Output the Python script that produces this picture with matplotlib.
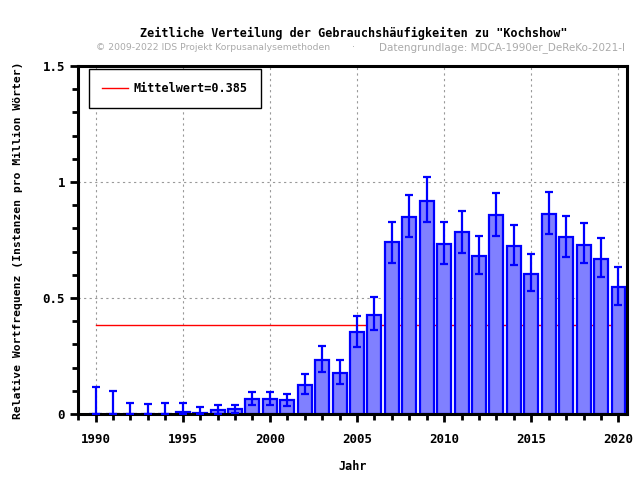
import numpy as np
import matplotlib
matplotlib.use("Agg")
import matplotlib.pyplot as plt
from matplotlib.ticker import MultipleLocator

years = list(range(1990, 2021))
values = [0, 0, 0, 0, 0, 0.010, 0.006, 0.016, 0.020, 0.063,
          0.063, 0.059, 0.126, 0.231, 0.175, 0.352, 0.428, 0.740, 0.850, 0.919,
          0.734, 0.783, 0.682, 0.856, 0.725, 0.605, 0.864, 0.764, 0.730, 0.670,
          0.549]
err_low = [0, 0, 0, 0, 0, 0, 0, 0.002, 0.005, 0.039,
           0.039, 0.036, 0.086, 0.182, 0.129, 0.289, 0.362, 0.651, 0.763, 0.828,
           0.647, 0.694, 0.603, 0.767, 0.642, 0.532, 0.777, 0.677, 0.651, 0.591,
           0.470]
err_high = [0.118, 0.100, 0.049, 0.044, 0.049, 0.049, 0.031, 0.040, 0.040, 0.096,
            0.096, 0.088, 0.174, 0.294, 0.234, 0.424, 0.506, 0.829, 0.945, 1.023,
            0.829, 0.876, 0.767, 0.954, 0.816, 0.691, 0.958, 0.855, 0.825, 0.760,
            0.635]
mean_value = 0.385

mono = "DejaVu Sans Mono"

fig = plt.figure(figsize=(6.4, 4.8), dpi=100)
ax = fig.add_axes([0.122, 0.1375, 0.858, 0.725])

vals = np.array(values)
yerr = [vals - np.array(err_low), np.array(err_high) - vals]

ax.plot([1990, 2020], [mean_value, mean_value], color="red", lw=1,
        label="Mittelwert=0.385", zorder=1)
ax.bar(years, values, width=0.8, color="#8080ff", edgecolor="#0000ff",
       linewidth=1.6, zorder=2)
ax.errorbar(years, values, yerr=yerr, fmt="none", ecolor="#0000ff",
            elinewidth=1.6, capsize=3, capthick=1.6, zorder=3)

ax.set_xlim(1989.0, 2020.5)
ax.set_ylim(0, 1.5)
ax.xaxis.set_major_locator(MultipleLocator(5))
ax.xaxis.set_minor_locator(MultipleLocator(1))
ax.yaxis.set_minor_locator(MultipleLocator(0.1))
ax.set_yticks([0, 0.5, 1, 1.5])
ax.set_yticklabels(["0", "0.5", "1", "1.5"])

ax.grid(True, which="major", color="#999999", linestyle=(0, (2, 3)), lw=0.8)
ax.set_axisbelow(True)
for s in ax.spines.values():
    s.set_linewidth(2.2)
ax.tick_params(which="major", direction="out", length=6, width=2,
               labelsize=9)
ax.tick_params(axis="x", which="major", pad=8)
ax.tick_params(which="minor", direction="out", length=4, width=2)
for lab in ax.get_xticklabels() + ax.get_yticklabels():
    lab.set_fontfamily(mono)
    lab.set_fontweight("bold")

ax.set_xlabel("Jahr", fontfamily=mono, fontweight="bold", fontsize=8.5,
              labelpad=10)
ax.set_ylabel("Relative Wortfrequenz (Instanzen pro Million Wörter)",
              fontfamily=mono, fontweight="bold", fontsize=8.2, labelpad=14)

leg = ax.legend(loc="upper left", bbox_to_anchor=(0.02, 0.991),
                borderaxespad=0,
                prop={"family": mono, "weight": "bold", "size": 8.5},
                fancybox=False, edgecolor="black", framealpha=1,
                borderpad=1.1, handlelength=2.2, handletextpad=0.5)
leg.get_frame().set_linewidth(1)

fig.text(0.552, 0.923, 'Zeitliche Verteilung der Gebrauchshäufigkeiten zu "Kochshow"',
         ha="center", fontfamily=mono, fontweight="bold", fontsize=8.5)
fig.text(0.333, 0.895, "© 2009-2022 IDS Projekt Korpusanalysemethoden",
         ha="center", color="#aaaaaa", fontsize=6.7)
fig.text(0.552, 0.895, "·", ha="center", color="#aaaaaa", fontsize=7)
fig.text(0.785, 0.895, "Datengrundlage: MDCA-1990er_DeReKo-2021-I",
         ha="center", color="#aaaaaa", fontsize=7.5)

fig.savefig("out.png", dpi=100)
